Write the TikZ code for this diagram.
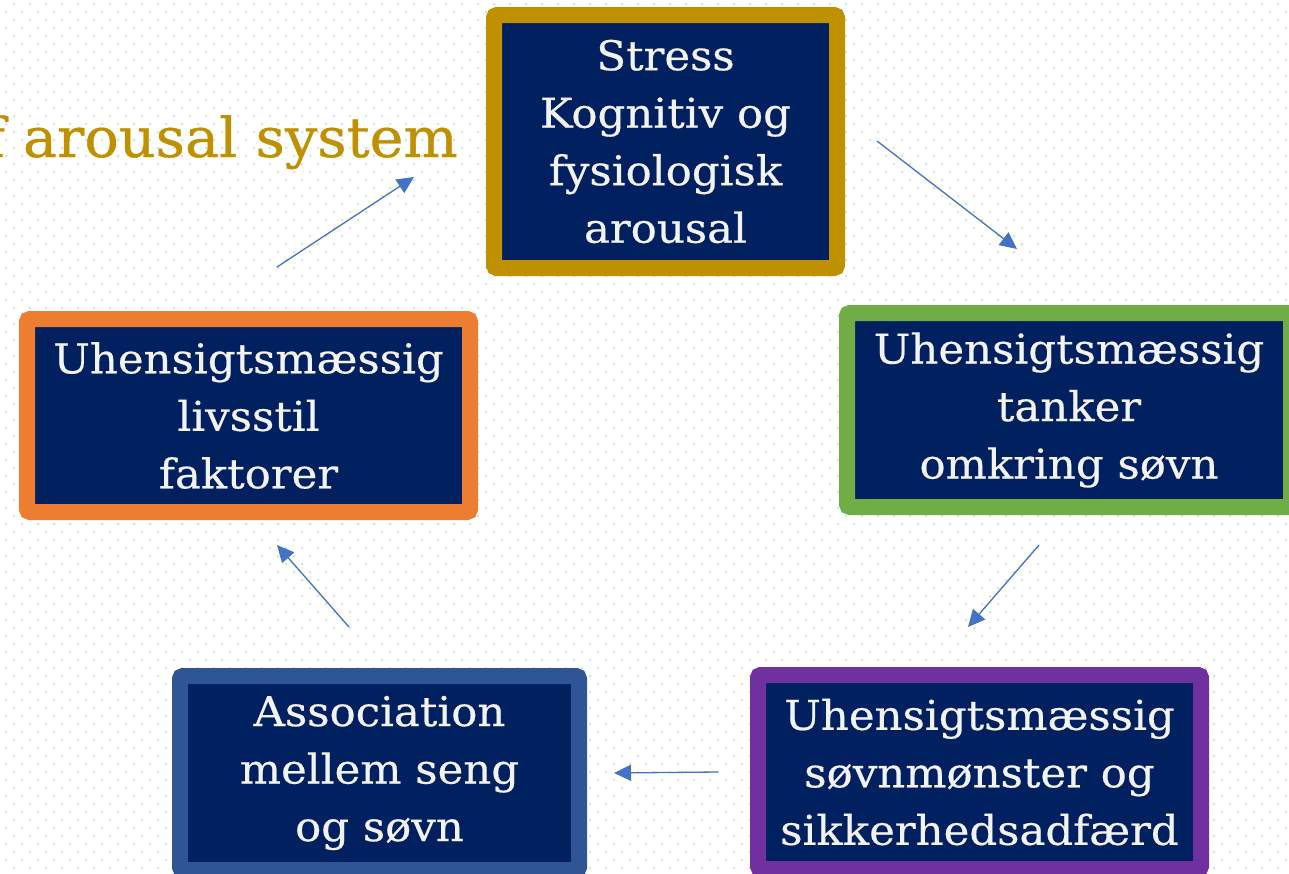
\documentclass[tikz,border=0pt]{standalone}
\usepackage{fontspec}
\setmainfont{DejaVu Serif}[FakeStretch=1.06,FakeBold=0.5]
\newfontfamily\titlefont{DejaVu Serif}[FakeStretch=1.04,FakeBold=0.6]
\usetikzlibrary{arrows.meta}
\definecolor{navy}{HTML}{002060}
\definecolor{goldc}{HTML}{BF9000}
\definecolor{greenc}{HTML}{70AD47}
\definecolor{orangec}{HTML}{ED7D31}
\definecolor{bluec}{HTML}{2F5597}
\definecolor{purplec}{HTML}{7030A0}
\definecolor{arrowc}{HTML}{4472C4}
\definecolor{dotc}{HTML}{D6DFEA}
\definecolor{boxtext}{HTML}{F2F2F2}
\tikzset{
  cyclebox/.style={draw, line width=16pt, fill=navy, rounded corners=3pt,
    inner sep=0pt, align=center, text=boxtext,
    font={\fontsize{41}{57.5}\selectfont}},
  cyclearrow/.style={draw=arrowc, line width=1.3pt,
    -{Triangle[length=17pt,width=16pt]}},
  titletext/.style={text=goldc, inner sep=0pt, anchor=base east,
    font={\titlefont\fontsize{55}{66}\selectfont}}
}
\begin{document}
\begin{tikzpicture}[x=1pt,y=-1pt]
\useasboundingbox (0,0) rectangle (1289,873);
\clip (0,0) rectangle (1289,873);
\fill[white] (0,0) rectangle (1289,873);
% dotted background
\foreach \k in {0,...,54} {
  \fill[dotc] \foreach \i in {0,...,80} { ({13+16*\i},{3+16*\k}) rectangle ++(2,2) };
  \fill[dotc] \foreach \i in {0,...,80} { ({5+16*\i},{11+16*\k}) rectangle ++(2,2) };
}
% title fragment
\node[titletext] (title) at (458,157) {f arousal system};
% boxes
\node[cyclebox, draw=goldc, minimum width=343pt, minimum height=253pt]
  (stress) at (665.5,141.5) {Stress\\Kognitiv og\\fysiologisk\\arousal};
\node[cyclebox, draw=greenc, minimum width=444pt, minimum height=194pt]
  (tanker) at (1069,410) {Uhensigtsmæssig\\tanker\\omkring søvn};
\node[cyclebox, draw=purplec, minimum width=443pt, minimum height=194pt]
  (moenster) at (979.5,772) {Uhensigtsmæssig\\søvnmønster og\\sikkerhedsadfærd};
\node[cyclebox, draw=bluec, minimum width=399pt, minimum height=194pt]
  (assoc) at (379.5,773) {Association\\mellem seng\\og søvn};
\node[cyclebox, draw=orangec, minimum width=443pt, minimum height=193pt]
  (livsstil) at (248.5,415.5) {Uhensigtsmæssig\\livsstil\\faktorer};
% arrow end points
\coordinate (a1s) at (277,267); \coordinate (a1e) at (414,177);
\coordinate (a2s) at (877,141); \coordinate (a2e) at (1017,249);
\coordinate (a3s) at (1039,545); \coordinate (a3e) at (968,627);
\coordinate (a4s) at (718,772); \coordinate (a4e) at (614,773);
\coordinate (a5s) at (349,627); \coordinate (a5e) at (277,545);
\draw[cyclearrow] (a1s) -- (a1e);
\draw[cyclearrow] (a2s) -- (a2e);
\draw[cyclearrow] (a3s) -- (a3e);
\draw[cyclearrow] (a4s) -- (a4e);
\draw[cyclearrow] (a5s) -- (a5e);
\end{tikzpicture}
\end{document}
